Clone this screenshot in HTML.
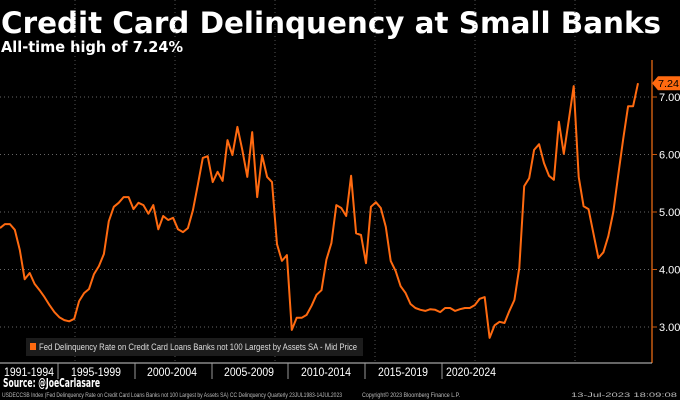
<!DOCTYPE html>
<html><head><meta charset="utf-8"><style>
html,body{margin:0;padding:0;background:#000;}
svg{display:block;}
</style></head><body>
<svg id="chart" width="680" height="400" viewBox="0 0 680 400" xmlns="http://www.w3.org/2000/svg" font-family="'DejaVu Sans','Liberation Sans',sans-serif">
<rect x="0" y="0" width="680" height="400" fill="#000"/>
<text x="1" y="33" fill="#fff" font-weight="bold" font-size="29" textLength="660" lengthAdjust="spacingAndGlyphs">Credit Card Delinquency at Small Banks</text>
<text x="1" y="52" fill="#fff" font-weight="bold" font-size="15" textLength="182" lengthAdjust="spacingAndGlyphs">All-time high of 7.24%</text>
<g id="grid"></g>
<g id="series"></g>
<g id="axes"></g>
<g>
<rect x="26" y="338" width="337" height="18" fill="#1c1c1c"/>
<rect x="30" y="343" width="6" height="7" fill="#ff6a10"/>
<text x="39" y="350" fill="#ddd" font-family="'Liberation Sans',sans-serif" font-size="9" textLength="318" lengthAdjust="spacingAndGlyphs">Fed Delinquency Rate on Credit Card Loans Banks not 100 Largest by Assets SA - Mid Price</text>
</g>
<text x="3" y="387" fill="#fff" font-weight="bold" font-size="12" textLength="97" lengthAdjust="spacingAndGlyphs">Source: @JoeCarlasare</text>
<text x="2" y="397" fill="#bbb" font-family="'Liberation Sans',sans-serif" font-size="6.5" textLength="340" lengthAdjust="spacingAndGlyphs">USDECCSB Index (Fed Delinquency Rate on Credit Card Loans Banks not 100 Largest by Assets SA) CC Delinquency  Quarterly 23JUL1983-14JUL2023</text>
<text x="362" y="397" fill="#bbb" font-family="'Liberation Sans',sans-serif" font-size="6.5" textLength="98" lengthAdjust="spacingAndGlyphs">Copyright© 2023 Bloomberg Finance L.P.</text>
<text x="571" y="397" fill="#bbb" font-family="'Liberation Sans',sans-serif" font-size="6.5" textLength="106" lengthAdjust="spacingAndGlyphs">13-Jul-2023 18:09:08</text>
</svg>
<script>
const values = [4.72,4.79,4.79,4.69,4.34,3.83,3.94,3.75,3.64,3.52,3.38,3.26,3.17,3.12,3.10,3.14,3.45,3.59,3.66,3.92,4.06,4.27,4.84,5.09,5.16,5.26,5.26,5.05,5.16,5.12,4.97,5.12,4.70,4.93,4.86,4.90,4.70,4.65,4.72,5.03,5.47,5.94,5.97,5.52,5.70,5.54,6.25,5.99,6.48,6.08,5.61,6.39,5.26,5.99,5.61,5.52,4.44,4.15,4.25,2.95,3.16,3.16,3.21,3.37,3.56,3.64,4.17,4.46,5.12,5.07,4.93,5.63,4.63,4.60,4.11,5.09,5.17,5.07,4.74,4.15,3.97,3.71,3.59,3.40,3.33,3.30,3.28,3.31,3.30,3.26,3.33,3.33,3.28,3.31,3.33,3.33,3.38,3.49,3.52,2.81,3.03,3.09,3.07,3.28,3.47,4.03,5.45,5.59,6.08,6.18,5.85,5.63,5.56,6.57,6.01,6.60,7.19,5.61,5.10,5.05,4.62,4.20,4.30,4.58,5.00,5.64,6.27,6.84,6.84,7.24];
const yTicks = [3,4,5,6,7];
const yTickLabels = ["3.00","4.00","5.00","6.00","7.00"];
const xLabels = ["1991-1994","1995-1999","2000-2004","2005-2009","2010-2014","2015-2019","2020-2024"];
const lastLabel = "7.24";

const NS = "http://www.w3.org/2000/svg";
const plotL = 0, plotR = 652, plotT = 60, plotB = 363;
const xStart = 0, xEnd = 638;
function xScale(i){ return xStart + i*(xEnd-xStart)/(values.length-1); }
function yScale(v){ return 97 + (7 - v)*57.5; }
function mk(tag, attrs, parent){ const e=document.createElementNS(NS,tag); for(const k in attrs) e.setAttribute(k,attrs[k]); parent.appendChild(e); return e; }

const grid = document.getElementById('grid');
const axes = document.getElementById('axes');
const series = document.getElementById('series');

yTicks.forEach((t,i)=>{
  const y = yScale(t);
  const g = mk('line',{x1:plotL,x2:plotR,y1:y,y2:y,stroke:'#666','stroke-width':1,'stroke-dasharray':'1,3'},grid);
  
  
  const tk = mk('line',{x1:plotR,x2:plotR+5,y1:y,y2:y,stroke:'#c85a10','stroke-width':1},axes);
  
  
  const lb = mk('text',{x:plotR+7,y:y+4,fill:'#fff','font-size':11,'font-family':"'Liberation Sans',sans-serif"},axes);
  
  
  lb.textContent = yTickLabels[i];
});
[75,175,275,375,475,575].forEach(x=>{
  const g = mk('line',{x1:x,x2:x,y1:plotT-60,y2:plotB,stroke:'#555','stroke-width':1,'stroke-dasharray':'1,3'},grid);
  
  
});

const pts = values.map((v,i)=>xScale(i).toFixed(1)+','+yScale(v).toFixed(1)).join(' ');
const line = mk('polyline',{points:pts,fill:'none',stroke:'#ff6a10','stroke-width':2,'stroke-linejoin':'round'},series);



const ax = mk('line',{x1:plotR,x2:plotR,y1:plotT,y2:plotB,stroke:'#c85a10','stroke-width':1.5},axes);


const xa = mk('line',{x1:0,x2:plotR,y1:plotB,y2:plotB,stroke:'#ccc','stroke-width':1},axes);



const seps = [58,135,212,288,365,442];
seps.forEach(x=>{
  const s = mk('line',{x1:x,x2:x,y1:plotB,y2:plotB+16,stroke:'#999','stroke-width':1},axes);
  
  
});
const centers = [29,96,172,249,326,403,471];
xLabels.forEach((t,i)=>{
  const lb = mk('text',{x:centers[i]-25,y:plotB+13,fill:'#fff','font-size':12,'font-family':"'Liberation Sans',sans-serif",textLength:50,lengthAdjust:'spacingAndGlyphs'},axes);
  
  
  lb.textContent = t;
});

const ly = yScale(values[values.length-1]);
const badge = mk('path',{d:`M${plotR} ${ly} L${plotR+6} ${ly-7} L680 ${ly-7} L680 ${ly+7} L${plotR+6} ${ly+7} Z`,fill:'#ff6a10'},axes);


const bt = mk('text',{x:plotR+6,y:ly+4,fill:'#000','font-size':10,'font-family':"'Liberation Sans',sans-serif",textLength:21,lengthAdjust:'spacingAndGlyphs'},axes);


bt.textContent = lastLabel;
</script>
</body></html>
